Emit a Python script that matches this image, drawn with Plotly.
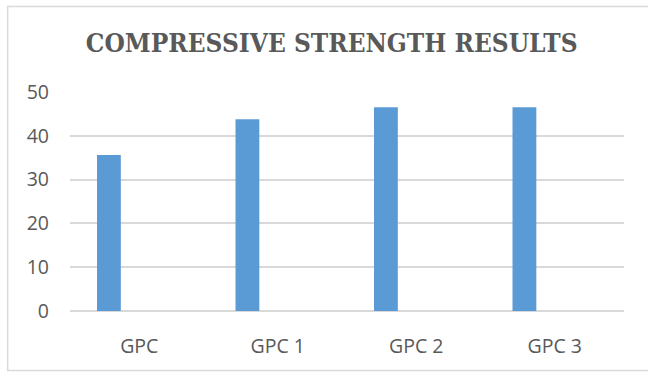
import plotly.graph_objects as go

categories = ["GPC", "GPC 1", "GPC 2", "GPC 3"]
strength = [35.6, 43.8, 46.5, 46.5]
y_ticks = [0, 10, 20, 30, 40, 50]

fig = go.Figure()
fig.add_trace(go.Bar(
    x=categories, y=strength,
    width=0.172, offset=-0.305,
    marker=dict(color="#5b9bd5", line=dict(width=0)),
    showlegend=False,
))

tick_font = dict(family="Open Sans, Liberation Sans, sans-serif", size=19.5, color="#595959")

fig.update_layout(
    width=648, height=372,
    margin=dict(l=70, r=24, t=92, b=61),
    paper_bgcolor="white", plot_bgcolor="white",
    title=dict(
        text="<b>COMPRESSIVE STRENGTH RESULTS</b>",
        font=dict(family="DejaVu Serif Condensed, Liberation Serif, serif", size=26, color="#595959"),
        x=0.512, xanchor="center", xref="container",
        y=0.884, yanchor="middle", yref="container",
    ),
    xaxis=dict(
        showgrid=False, showline=False, ticks="",
        tickfont=tick_font,
        ticklabelstandoff=21,
    ),
    yaxis=dict(
        range=[0, 50], tickvals=y_ticks,
        showgrid=True, gridcolor="#d9d9d9", gridwidth=1.5,
        zeroline=True, zerolinecolor="#d9d9d9", zerolinewidth=1.5,
        showline=False, ticks="",
        tickfont=tick_font,
        ticklabelstandoff=20,
    ),
    shapes=[
        dict(type="rect", xref="paper", yref="paper",
             x0=-0.1125, x1=1.06, y0=-0.2715, y1=1.3906,
             line=dict(color="#d9d9d9", width=1.5), fillcolor="rgba(0,0,0,0)", layer="below"),
    ],
)

fig.write_html("out.html")
